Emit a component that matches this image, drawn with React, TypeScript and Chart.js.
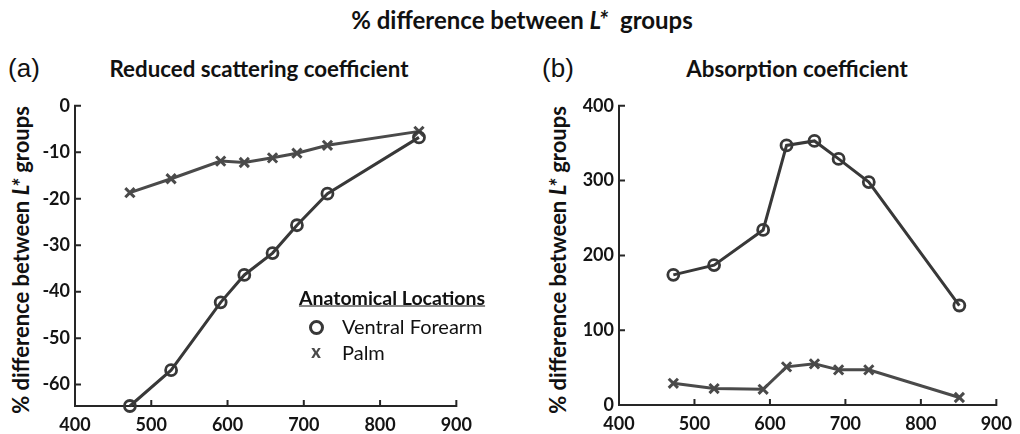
import React, { useEffect, useRef } from "react";
import { Chart, registerables } from "chart.js";
Chart.register(...registerables);

const wavelengths = [472, 526, 591, 622, 659, 691, 731, 851];
const scatterForearm = [-64.6, -56.9, -42.3, -36.4, -31.7, -25.7, -18.9, -6.8];
const scatterPalm = [-18.7, -15.7, -11.9, -12.2, -11.2, -10.2, -8.5, -5.5];
const absorbForearm = [174, 187, 234, 347, 353, 329, 298, 133];
const absorbPalm = [29, 22, 21, 51, 55, 47, 47, 10];
const seriesNames = ["Ventral Forearm", "Palm"];

const FONT = "Lato, 'Open Sans', sans-serif";
const AXIS = "#262626";
const C_FORE = "#383838";
const C_PALM = "#4a4a4a";

const axisPlugin = {
  id: "matlabAxes",
  beforeDatasetsDraw(chart: any) {
    const { ctx, chartArea: a, scales } = chart;
    const x = scales.x, y = scales.y;
    ctx.save();
    ctx.strokeStyle = AXIS;
    ctx.lineWidth = 2;
    ctx.lineCap = "square";
    ctx.beginPath();
    ctx.moveTo(a.left, a.top);
    ctx.lineTo(a.left, a.bottom);
    ctx.lineTo(a.right, a.bottom);
    x.ticks.forEach((t: any) => {
      const px = x.getPixelForValue(t.value);
      ctx.moveTo(px, a.bottom);
      ctx.lineTo(px, a.bottom - 5);
    });
    y.ticks.forEach((t: any) => {
      const py = y.getPixelForValue(t.value);
      ctx.moveTo(a.left, py);
      ctx.lineTo(a.left + 5, py);
    });
    ctx.stroke();
    ctx.restore();
  },
};

function makeConfig(fore: number[], palm: number[], yMin: number, yMax: number, yStep: number, yWidth: number, xHeight: number, padRight: number) {
  const toPts = (v: number[]) => v.map((y, i) => ({ x: wavelengths[i], y }));
  return {
    type: "line",
    data: {
      datasets: [
        {
          label: seriesNames[0],
          data: toPts(fore),
          borderColor: C_FORE,
          borderWidth: 3,
          pointStyle: "circle",
          pointRadius: 5.5,
          pointBorderWidth: 2.8,
          pointBorderColor: C_FORE,
          pointBackgroundColor: "rgba(0,0,0,0)",
          clip: false,
        },
        {
          label: seriesNames[1],
          data: toPts(palm),
          borderColor: C_PALM,
          borderWidth: 3,
          pointStyle: "crossRot",
          pointRadius: 6.5,
          pointBorderWidth: 3,
          pointBorderColor: C_PALM,
          clip: false,
        },
      ],
    },
    options: {
      animation: false,
      responsive: false,
      maintainAspectRatio: false,
      layout: { padding: { top: 12, right: padRight, left: 0, bottom: 0 } },
      plugins: { legend: { display: false }, title: { display: false }, tooltip: { enabled: false } },
      events: [],
      scales: {
        x: {
          type: "linear",
          min: 400,
          max: 900,
          grid: { display: false, drawTicks: false },
          border: { display: false },
          ticks: { stepSize: 100, color: "#141414", font: { family: FONT, size: 18, weight: "bold" }, padding: 8, maxRotation: 0 },
          afterFit: (s: any) => { s.height = xHeight; },
        },
        y: {
          type: "linear",
          min: yMin,
          max: yMax,
          grid: { display: false, drawTicks: false },
          border: { display: false },
          ticks: { stepSize: yStep, color: "#141414", font: { family: FONT, size: 18, weight: "bold" }, padding: 5 },
          afterBuildTicks: (s: any) => { s.ticks = s.ticks.filter((t: any) => Math.abs(t.value / yStep - Math.round(t.value / yStep)) < 1e-6); },
          afterFit: (s: any) => { s.width = yWidth; },
        },
      },
    },
    plugins: [axisPlugin],
  };
}

function Panel({ cfg, left, top, width, height }: any) {
  const ref = useRef<HTMLCanvasElement>(null);
  useEffect(() => {
    const chart = new Chart(ref.current as HTMLCanvasElement, cfg);
    return () => chart.destroy();
  }, []);
  return <canvas ref={ref} width={width} height={height} style={{ position: "absolute", left, top, width, height }} />;
}

const abs = (x: number, y: number, extra: any = {}) => ({ position: "absolute" as const, left: x, top: y, transform: "translate(-50%,-50%)", whiteSpace: "nowrap" as const, ...extra });

export default function App() {
  const leftCfg = makeConfig(scatterForearm, scatterPalm, -64.6, 0, 10, 45, 28, 21);
  const rightCfg = makeConfig(absorbForearm, absorbPalm, 0, 400, 100, 59, 29, 18);
  const bold = { fontFamily: FONT, fontWeight: 700, color: "#111" };
  const yTitle = (cx: number) => (
    <div style={abs(cx, 260, { ...bold, fontSize: 22, transform: "translate(-50%,-50%) rotate(-90deg)" })}>
      % difference between <i>L*</i> groups
    </div>
  );
  return (
    <div style={{ position: "fixed", left: 0, top: 0, width: 1020, height: 434, background: "#fff", overflow: "hidden" }}>
      <div style={abs(522, 19, { ...bold, fontSize: 24 })}>% difference between <i>L*</i>&nbsp; groups</div>
      <div style={abs(24, 68, { fontFamily: "'Liberation Sans', Arial, sans-serif", fontSize: 26, color: "#111" })}>(a)</div>
      <div style={abs(259, 68, { ...bold, fontSize: 22.3 })}>Reduced scattering coefficient</div>
      <div style={abs(558, 68, { fontFamily: "'Liberation Sans', Arial, sans-serif", fontSize: 26, color: "#111" })}>(b)</div>
      <div style={abs(797, 68, { ...bold, fontSize: 22.3 })}>Absorption coefficient</div>
      {yTitle(20)}
      {yTitle(557)}
      <Panel cfg={leftCfg} left={30} top={90} width={450} height={344} />
      <Panel cfg={rightCfg} left={560} top={90} width={460} height={344} />
      <div style={abs(392, 297, { ...bold, fontSize: 19.5, textDecoration: "underline" })}>Anatomical Locations</div>
      <div style={{ position: "absolute", left: 309, top: 320, width: 9, height: 9, borderRadius: "50%", border: `3px solid ${C_FORE}` }} />
      <div style={{ position: "absolute", left: 342, top: 326, transform: "translateY(-50%)", fontFamily: FONT, fontSize: 20, color: "#111", whiteSpace: "nowrap" }}>{seriesNames[0]}</div>
      <div style={abs(316, 351, { fontFamily: FONT, fontWeight: 900, fontSize: 18, color: C_PALM })}>x</div>
      <div style={{ position: "absolute", left: 342, top: 352, transform: "translateY(-50%)", fontFamily: FONT, fontSize: 20, color: "#111", whiteSpace: "nowrap" }}>{seriesNames[1]}</div>
    </div>
  );
}
